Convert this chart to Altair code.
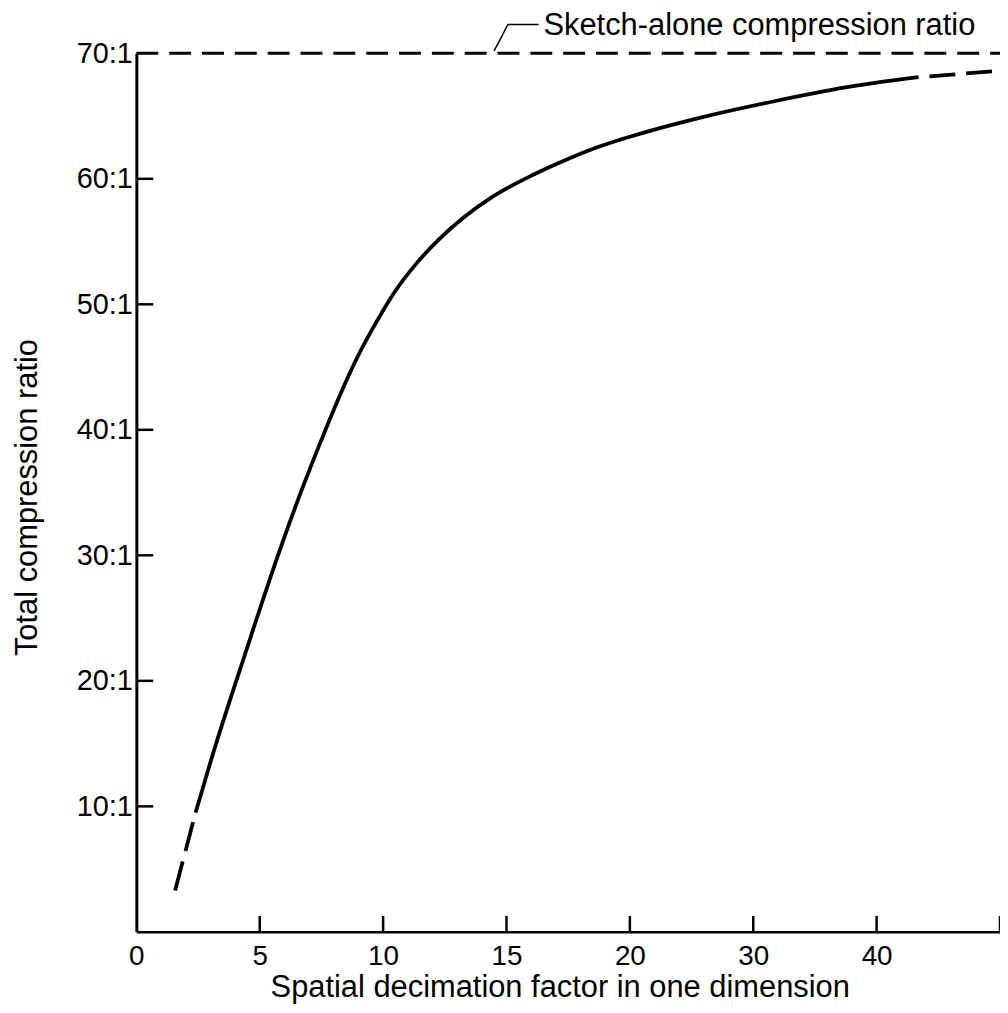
import altair as alt
import pandas as pd

# Curve: total compression ratio vs spatial decimation factor
curve_x = [2.40, 3.06, 4.40, 5.74, 6.68, 7.48, 8.15, 8.96, 9.76, 10.44, 11.37, 12.17,
           13.25, 14.46, 16.06, 17.4, 18.6, 20.0, 23.8, 25.4, 31.8, 38.2, 43.4]
curve_y = [9.5, 13.9, 22.1, 30.0, 35.1, 39.1, 42.3, 45.8, 48.7, 50.9, 53.3, 55.0,
           56.9, 58.6, 60.3, 61.5, 62.45, 63.35, 64.4, 64.8, 66.2, 67.4, 68.1]
# dashed extrapolations
low_dash_x = [1.57, 2.40]
low_dash_y = [3.3, 9.5]
high_dash_x = [43.4, 50.0]
high_dash_y = [68.1, 68.6]
# sketch-alone ratio
sketch_ratio = 70
sketch_x = [0, 50]
# annotation leader
leader_x = [14.5, 15.06, 16.3]
leader_y = [70.2, 72.3, 72.3]
label_text = "Sketch-alone compression ratio"
label_x = [16.5]
label_y = [72.2]

x_ticks = [0, 5, 10, 15, 20, 30, 40]
x_tick_marks = [5, 10, 15, 20, 30, 40, 50]
y_ticks = [10, 20, 30, 40, 50, 60, 70]
y_tick_marks = [10, 20, 30, 40, 50, 60]

W, H = 868, 883
FONT = "Liberation Sans"

xscale = alt.Scale(domain=[0, 20, 50], range=[0, 496, 868], nice=False, zero=False)
yscale = alt.Scale(domain=[0, 70], nice=False)

xaxis = alt.Axis(values=x_ticks, title="Spatial decimation factor in one dimension",
                 grid=False, ticks=False, tickSize=0, labelPadding=11,
                 labelFont=FONT, labelFontSize=28, labelColor="black",
                 labelFlush=False, labelOverlap=False,
                 domainColor="black", domainWidth=2.5,
                 titleFont=FONT, titleFontSize=31, titleFontWeight="normal",
                 titleColor="black", titleX=425.5, titleY=65, titleAlign="center",
                 titleBaseline="alphabetic")
yaxis = alt.Axis(values=y_ticks, title="Total compression ratio",
                 labelExpr="datum.value + ':1'",
                 grid=False, ticks=False, tickSize=0, labelPadding=4,
                 labelFont=FONT, labelFontSize=29, labelColor="black",
                 labelFlush=False, labelOverlap=False,
                 domainColor="black", domainWidth=3,
                 titleFont=FONT, titleFontSize=31, titleFontWeight="normal",
                 titleColor="black", titleX=-109, titleY=446, titleAngle=-90,
                 titleAlign="center", titleBaseline="middle")

def X():
    return alt.X("x:Q", scale=xscale, axis=xaxis)

def Y():
    return alt.Y("y:Q", scale=yscale, axis=yaxis)

df_curve = pd.DataFrame({"x": curve_x, "y": curve_y})
df_low = pd.DataFrame({"x": low_dash_x, "y": low_dash_y})
df_high = pd.DataFrame({"x": high_dash_x, "y": high_dash_y})
df_sketch = pd.DataFrame({"x": sketch_x, "y": [sketch_ratio] * len(sketch_x)})
df_leader = pd.DataFrame({"x": leader_x, "y": leader_y})
df_label = pd.DataFrame({"x": label_x, "y": label_y, "t": [label_text]})
df_xt = pd.DataFrame({"x": x_tick_marks})
df_yt = pd.DataFrame({"y": y_tick_marks})

curve = alt.Chart(df_curve).mark_line(color="black", strokeWidth=3.8, interpolate="monotone").encode(x=X(), y=Y())
low = alt.Chart(df_low).mark_line(color="black", strokeWidth=3.8, strokeDash=[30, 11]).encode(x=X(), y=Y())
high = alt.Chart(df_high).mark_line(color="black", strokeWidth=3.8, strokeDash=[26, 11], strokeDashOffset=26).encode(x=X(), y=Y())
sketch = alt.Chart(df_sketch).mark_line(color="black", strokeWidth=3, strokeDash=[22, 11]).encode(x=X(), y=Y())
leader = alt.Chart(df_leader).mark_line(color="black", strokeWidth=1.5).encode(x=X(), y=Y())
label = alt.Chart(df_label).mark_text(align="left", baseline="middle", font=FONT,
                                      fontSize=31, color="black").encode(x=X(), y=Y(), text="t:N")
xt = alt.Chart(df_xt).mark_rule(color="black", strokeWidth=2.5).encode(
    x=X(), y=alt.value(H), y2=alt.value(H - 16))
yt = alt.Chart(df_yt).mark_rule(color="black", strokeWidth=2.5).encode(
    y=Y(), x=alt.value(0), x2=alt.value(17))

chart = alt.layer(sketch, curve, low, high, leader, label, xt, yt).properties(
    width=W, height=H,
    autosize=alt.AutoSizeParams(type="none"),
    padding={"left": 129, "top": 43, "right": 0, "bottom": 76},
    background="white",
).configure_view(stroke=None)

chart.save("out.html", embed_options={"renderer": "svg", "actions": False})
